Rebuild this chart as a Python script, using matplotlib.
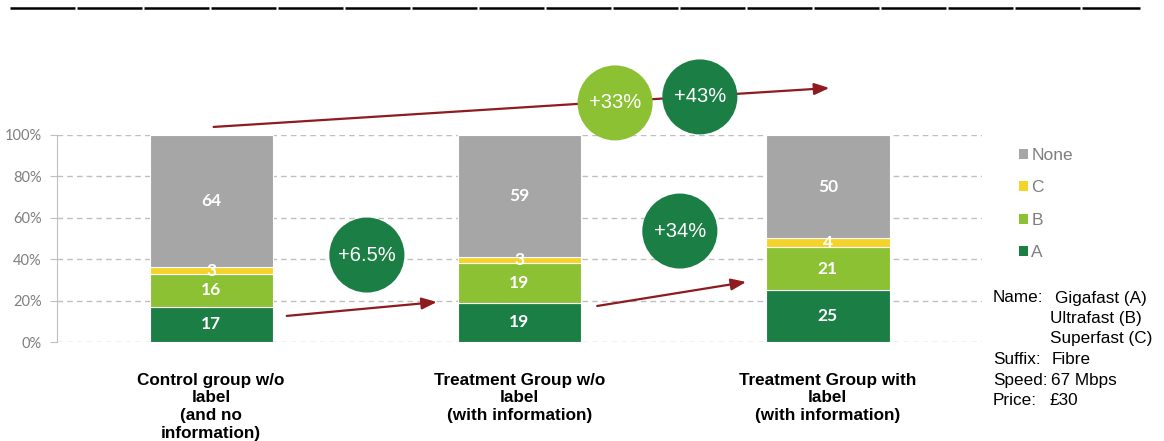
import matplotlib
matplotlib.use("Agg")
import matplotlib.pyplot as plt
from matplotlib.patches import Ellipse, Patch
from matplotlib.lines import Line2D

# ---- data -------------------------------------------------------------
groups = [
    "Control group w/o\nlabel\n(and no\ninformation)",
    "Treatment Group w/o\nlabel\n(with information)",
    "Treatment Group with\nlabel\n(with information)",
]
series_names = ["A", "B", "C", "None"]
share_a = [17, 19, 25]
share_b = [16, 19, 21]
share_c = [3, 3, 4]
share_none = [64, 59, 50]
yticks = [0, 20, 40, 60, 80, 100]
ytick_labels = ["0%", "20%", "40%", "60%", "80%", "100%"]

uplift_labels = ["+6.5%", "+34%", "+33%", "+43%"]

spec_keys = ["Name:", "", "", "Suffix:", "Speed:", "Price:"]
spec_vals = ["Gigafast (A)", "Ultrafast (B)", "Superfast (C)", "Fibre", "67 Mbps", "£30"]

# ---- style ------------------------------------------------------------
colors = {"A": "#1B7E45", "B": "#8CC134", "C": "#F6D32A", "None": "#A6A6A6"}
arrow_color = "#8E1B1F"
grid_color = "#BFBFBF"

W, H = 1164, 441
fig = plt.figure(figsize=(W / 100, H / 100), dpi=100)
ax = fig.add_axes([57 / W, 1 - 342 / H, (982 - 57) / W, (342 - 135) / H])

x = list(range(len(groups)))
stack = [share_a, share_b, share_c, share_none]
bottom = [0] * len(groups)
bar_w = 0.4
for name, vals in zip(series_names, stack):
    ax.bar(x, vals, bar_w, bottom=bottom, color=colors[name],
           edgecolor="white", linewidth=0.8, zorder=3)
    for xi, v, b in zip(x, vals, bottom):
        ax.text(xi, b + v / 2, f"{v}", ha="center", va="center",
                color="white", fontsize=12.5, fontweight="bold",
                family="Lato", zorder=5)
    bottom = [b + v for b, v in zip(bottom, vals)]

ax.set_xlim(-0.5, 2.5)
ax.set_ylim(0, 100)
ax.set_yticks(yticks)
ax.set_yticklabels(ytick_labels, color="#7F7F7F", fontsize=10.5, family="Lato")
ax.set_xticks(x)
ax.set_xticklabels(groups, fontsize=12.3, fontweight="bold",
                   family="Liberation Sans", color="black", va="top",
                   linespacing=1.24)
ax.tick_params(axis="x", length=0, pad=22)
ax.tick_params(axis="y", length=5, color=grid_color, pad=6)
for s in ["top", "right", "bottom"]:
    ax.spines[s].set_visible(False)
ax.spines["left"].set_color(grid_color)
ax.yaxis.grid(True, linestyle=(0, (4, 3)), color=grid_color, linewidth=1, zorder=0)
ax.set_axisbelow(True)

# ---- arrows -----------------------------------------------------------
def arrow(x0, y0, x1, y1):
    ax.annotate("", xy=(x1, y1), xytext=(x0, y0), annotation_clip=False,
                arrowprops=dict(arrowstyle="-|>,head_length=0.9,head_width=0.35",
                                color=arrow_color, lw=1.6,
                                shrinkA=0, shrinkB=0), zorder=6)

arrow(0.008, 103.9, 2.005, 122.7)
arrow(0.245, 12.6, 0.732, 19.3)
arrow(1.252, 17.4, 1.735, 29.0)

# ---- uplift circles ---------------------------------------------------
px_x = 308.0   # pixels per category unit
px_y = 2.07    # pixels per percentage point
diam = 75
circle_pos = [(0.505, 42.0), (1.52, 53.6), (1.31, 115.5), (1.585, 118.4)]
circle_col = [colors["A"], colors["A"], colors["B"], colors["A"]]
for (cx, cy), lab, col in zip(circle_pos, uplift_labels, circle_col):
    ax.add_patch(Ellipse((cx, cy), diam / px_x, diam / px_y, facecolor=col,
                         edgecolor="none", clip_on=False, zorder=7))
    ax.text(cx, cy, lab, ha="center", va="center", color="white",
            fontsize=14.5, family="Liberation Sans", zorder=8, clip_on=False)

# ---- legend -----------------------------------------------------------
handles = [Patch(facecolor=colors[n], edgecolor="none") for n in reversed(series_names)]
leg = fig.legend(handles, list(reversed(series_names)), loc="upper left",
                 bbox_to_anchor=(1019 / W, 1 - 148 / H), frameon=False,
                 handlelength=0.5, handleheight=0.5, handletextpad=0.2,
                 labelspacing=1.0, borderaxespad=0, borderpad=0,
                 prop={"family": "Liberation Sans", "size": 12.5})
for t in leg.get_texts():
    t.set_color("#7F7F7F")

# ---- product specification -------------------------------------------
row_y = [298, 318.5, 339, 359.5, 380, 400.5]
val_x = [1055, 1050, 1050, 1052, 1051, 1050]
for k, v, y, vx in zip(spec_keys, spec_vals, row_y, val_x):
    if k:
        fig.text(993 / W, 1 - y / H, k, ha="left", va="center",
                 fontsize=12.3, family="Liberation Sans", color="black")
    fig.text(vx / W, 1 - y / H, v, ha="left", va="center",
             fontsize=12.3, family="Liberation Sans", color="black")

# ---- header rule ------------------------------------------------------
fig.add_artist(Line2D([10 / W, 1140 / W], [1 - 8 / H, 1 - 8 / H],
                      transform=fig.transFigure, color="black", lw=1.8,
                      linestyle=(0, (26, 0.8))))

fig.savefig("out.png", dpi=100)
